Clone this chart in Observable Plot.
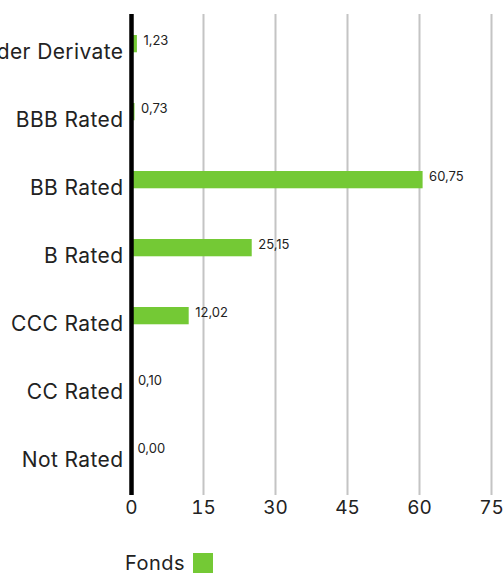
<!DOCTYPE html>
<html>
<head>
<meta charset="utf-8">
<script src="https://cdn.jsdelivr.net/npm/d3@7"></script>
<script src="https://cdn.jsdelivr.net/npm/@observablehq/plot@0.6"></script>
<style>
  html, body { margin: 0; padding: 0; background: #fff; overflow: hidden; }
  body { width: 504px; height: 574px; font-family: Inter, "Open Sans", sans-serif; }
  #chart svg { display: block; overflow: hidden; }
  #chart svg g[aria-label="y-axis tick label"] text { letter-spacing: 0.4px; }
  #legend { display: flex; align-items: center; margin-top: 13px; padding-left: 125px; font-size: 20px; line-height: 20px; letter-spacing: 0.5px; color: #222; height: 20px; }
  #legend .sw { width: 20px; height: 20px; background: #74c935; margin-left: 8px; }
</style>
</head>
<body>
<div id="chart"></div>
<div id="legend"><span>Fonds</span><span class="sw"></span></div>
<script>
const categories = ["Barmittel und/oder Derivate", "BBB Rated", "BB Rated", "B Rated", "CCC Rated", "CC Rated", "Not Rated"];
const fondsValues = [1.23, 0.73, 60.75, 25.15, 12.02, 0.10, 0.00];
const xTicks = [0, 15, 30, 45, 60, 75];
const seriesName = "Fonds";

const data = categories.map((c, i) => ({category: c, value: fondsValues[i]}));
const fmt = v => v.toFixed(2).replace(".", ",");
const green = "#74c935";

const H = 540, mTop = 14, mBottom = 45;
const band = (H - mTop - mBottom) / categories.length;

const chart = Plot.plot({
  width: 504,
  height: H,
  marginLeft: 131,
  marginRight: 13,
  marginTop: mTop,
  marginBottom: mBottom,
  style: {fontFamily: "Inter, 'Open Sans', sans-serif", color: "#222", background: "#fff"},
  x: {domain: [0, 75], ticks: xTicks, label: null},
  y: {domain: categories, padding: 0, label: null},
  marks: [
    Plot.gridX(xTicks.filter(d => d > 0), {stroke: "#c4c4c4", strokeWidth: 2, strokeOpacity: 1}),
    Plot.barX(data, {x: "value", y: "category", fill: green, insetTop: 18, insetBottom: band - 36}),
    Plot.ruleX([0], {stroke: "#000", strokeWidth: 4.5}),
    Plot.text(data, {x: "value", y: "category", text: d => fmt(d.value), textAnchor: "start", dx: 6, dy: -(band / 2 - 27) - 3, fontSize: 13, fill: "#222"}),
    Plot.axisX({ticks: xTicks, tickSize: 0, tickPadding: 5, fontSize: 19, tickFormat: d => String(d)}),
    Plot.axisY({tickSize: 0, tickPadding: 8, fontSize: 21, dy: 1})
  ]
});
document.getElementById("chart").appendChild(chart);
</script>
</body>
</html>
